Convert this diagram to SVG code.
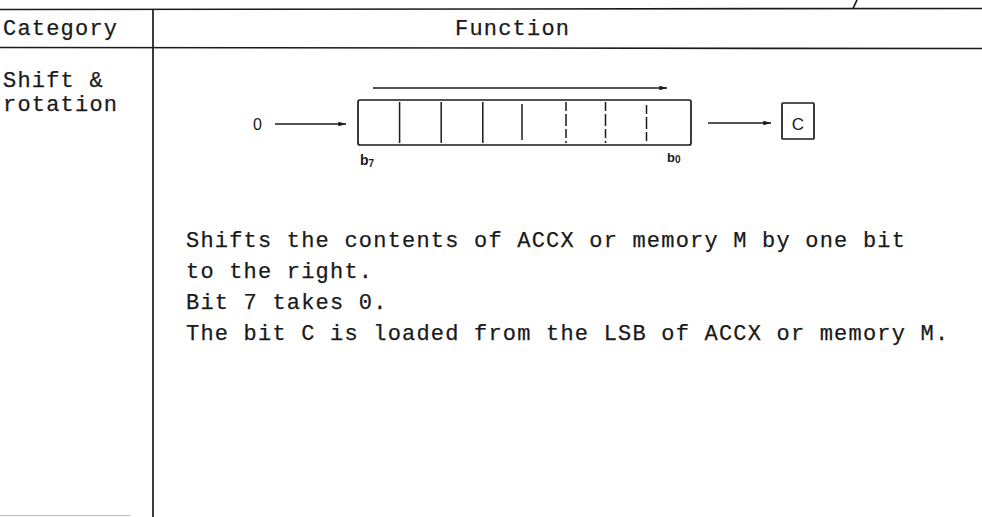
<svg xmlns="http://www.w3.org/2000/svg" width="982" height="517" viewBox="0 0 982 517">
  <style>
    .rule { stroke: #1a1a1a; stroke-width: 1.7; fill: none; }
    .tw { font-family: "Liberation Mono", "DejaVu Sans Mono", monospace; font-size: 22px; letter-spacing: 1.2px; fill: #1a1a1a; stroke: #1a1a1a; stroke-width: 0.25; }
    .lbl { font-family: "Liberation Sans", Arial, sans-serif; fill: #1a1a1a; }
    .reg { stroke: #1a1a1a; stroke-width: 1.7; fill: none; }
    .cell { stroke: #1a1a1a; stroke-width: 1.5; }
    .dash { stroke-dasharray: 9 3 12 3; }
    .wire { stroke: #1a1a1a; stroke-width: 1.6; fill: none; marker-end: url(#head); }
  </style>
  <defs>
    <marker id="head" viewBox="0 0 10 6" refX="10" refY="3" markerWidth="8" markerHeight="4.6" markerUnits="userSpaceOnUse" orient="auto">
      <path d="M0,0 L10,3 L0,6 Z" fill="#1a1a1a"/>
    </marker>
  </defs>

  <rect width="982" height="517" fill="#ffffff"/>

  <!-- table frame -->
  <g id="table">
    <line class="rule" x1="0" y1="9.5" x2="982" y2="8.5"/>
    <line class="rule" x1="853" y1="8.5" x2="857" y2="0"/>
    <line class="rule" x1="0" y1="47.5" x2="982" y2="48.5"/>
    <line class="rule" x1="153" y1="9" x2="153" y2="517"/>
    <line x1="0" y1="515.5" x2="130" y2="515.5" stroke="#bdbdbd" stroke-width="1.2"/>
  </g>

  <!-- header row -->
  <g id="hdr-category">
    <text class="tw" x="3" y="35">Category</text>
  </g>
  <g id="hdr-function">
    <text class="tw" x="455" y="35">Function</text>
  </g>

  <!-- category cell -->
  <g id="cat-shift">
    <text class="tw" x="3" y="87">Shift &amp;</text>
    <text class="tw" x="3" y="111">rotation</text>
  </g>

  <!-- input value -->
  <g id="in-zero">
    <text class="lbl" x="253" y="130" font-size="16">0</text>
  </g>

  <!-- 8-bit register b7..b0 -->
  <g id="register">
    <rect class="reg" x="358" y="100" width="333" height="45" rx="2"/>
    <line class="cell" x1="399.6" y1="102" x2="399.6" y2="143"/>
    <line class="cell" x1="441.2" y1="102" x2="441.2" y2="143"/>
    <line class="cell" x1="482.8" y1="102" x2="482.8" y2="143"/>
    <line class="cell" x1="522" y1="104" x2="522" y2="140"/>
    <line class="cell dash" x1="566" y1="102" x2="566" y2="143"/>
    <line class="cell dash" x1="605.5" y1="102" x2="605.5" y2="143"/>
    <line class="cell dash" x1="646.5" y1="105" x2="646.5" y2="143"/>
    <text class="lbl" x="360" y="165" font-size="14" font-weight="bold">b<tspan font-size="10" dy="2">7</tspan></text>
    <text class="lbl" x="667" y="162" font-size="13" font-weight="bold">b<tspan font-size="10" dy="1">0</tspan></text>
  </g>

  <!-- carry flag -->
  <g id="carry">
    <rect class="reg" x="782" y="103" width="32" height="36" rx="1"/>
    <text class="lbl" x="798" y="130" font-size="17" text-anchor="middle">C</text>
  </g>

  <!-- data flow -->
  <g id="connectors">
    <line class="wire" x1="275" y1="124" x2="346" y2="124"/>
    <line class="wire" x1="373" y1="88" x2="667" y2="88"/>
    <line class="wire" x1="708" y1="123" x2="771" y2="123"/>
  </g>

  <!-- description -->
  <g id="desc">
    <text class="tw" x="186" y="247">Shifts the contents of ACCX or memory M by one bit</text>
    <text class="tw" x="186" y="278">to the right.</text>
    <text class="tw" x="186" y="309">Bit 7 takes 0.</text>
    <text class="tw" x="186" y="340">The bit C is loaded from the LSB of ACCX or memory M.</text>
  </g>
</svg>
